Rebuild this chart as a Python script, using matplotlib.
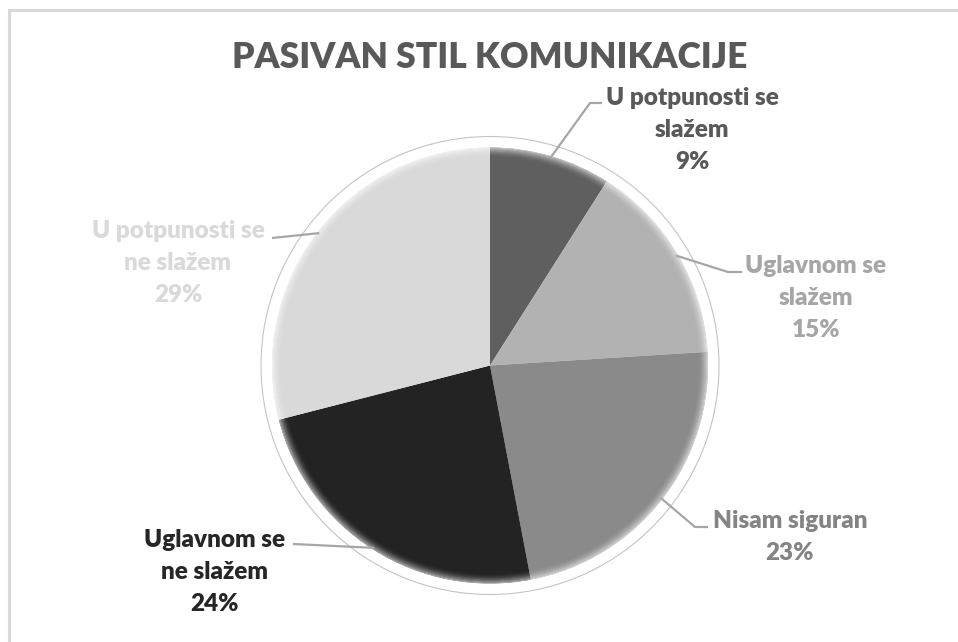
import numpy as np
import matplotlib.pyplot as plt
from matplotlib.patches import Circle, Wedge, Rectangle

# podaci
kategorije = ["U potpunosti se\nslažem", "Uglavnom se\nslažem", "Nisam siguran",
              "Uglavnom se\nne slažem", "U potpunosti se\nne slažem"]
postoci = [9, 15, 23, 24, 29]
boje = ["#5f5f5f", "#b2b2b2", "#8a8a8a", "#232323", "#d9d9d9"]
boje_teksta = ["#595959", "#a6a6a6", "#848484", "#262626", "#d9d9d9"]
naslov = "PASIVAN STIL KOMUNIKACIJE"

W, H = 958, 642
plt.rcParams['font.family'] = ['Lato', 'DejaVu Sans']

fig = plt.figure(figsize=(W / 100, H / 100), dpi=100)
ax = fig.add_axes([0, 0, 1, 1])

cx, cy, r = 490, H - 365.5, 218

# tanka vanjska kružnica
ax.add_patch(Circle((cx, cy), r + 11, facecolor="white", edgecolor="#c4c4c4", lw=0.8, zorder=1))

wedges, _ = ax.pie(postoci, colors=boje, startangle=90, counterclock=False,
                   center=(cx, cy), radius=r, wedgeprops=dict(linewidth=0, zorder=2))

# mekani rub (bevel)
n = 10
for i in range(n):
    a = 0.6 * (1 - i / n) ** 2
    ax.add_patch(Wedge((cx, cy), r - i, 0, 360, width=1.05, facecolor="white",
                       edgecolor="none", alpha=a, zorder=3))

# pozicije oznaka (u pikselima slike)
pozicije = [(692, 130), (816, 298), (790, 537), (215, 572), (178, 263)]
lomovi = [[(590, 103), (602, 103)], [(728, 272), (742, 272)], [(695, 527), (708, 527)],
          [(293, 544)], [(272, 238)]]

for w, txt, p, c, tc, lom in zip(wedges, kategorije, postoci, pozicije, boje_teksta, lomovi):
    kut = np.deg2rad((w.theta1 + w.theta2) / 2)
    x0 = cx + (r - 2) * np.cos(kut)
    y0 = cy + (r - 2) * np.sin(kut)
    xs = [x0] + [q[0] for q in lom]
    ys = [y0] + [H - q[1] for q in lom]
    ax.plot(xs, ys, color="#a6a6a6", lw=1.6, zorder=4, solid_capstyle="butt")
    ax.text(c[0], H - c[1], f"{txt}\n{p}%", ha="center", va="center", color=tc,
            fontsize=17.5, fontweight="heavy", linespacing=1.56, zorder=5)

ax.text(490, H - 57, naslov, ha="center", va="center", color="#595959",
        fontsize=25.5, fontweight="heavy")

# okvir
ax.add_patch(Rectangle((9.5, -50), W + 50, H - 9.5 + 50, facecolor="none",
                       edgecolor="#d9d9d9", lw=2.2, zorder=0))

ax.set_xlim(0, W)
ax.set_ylim(0, H)
ax.set_aspect("auto")
ax.axis("off")

fig.savefig("out.png", dpi=100)
